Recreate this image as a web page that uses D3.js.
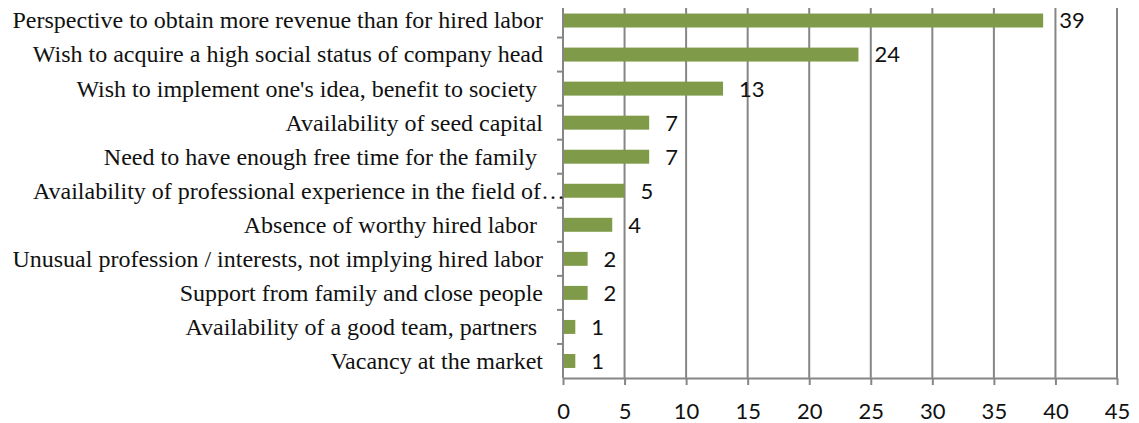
<!DOCTYPE html>
<html>
<head>
<meta charset="utf-8">
<script src="https://cdn.jsdelivr.net/npm/d3@7"></script>
<style>
  body { margin: 0; background: #fff; }
  text { white-space: pre; }
</style>
</head>
<body>
<svg id="chart" width="1139" height="423"></svg>
<script>
// categories, top to bottom (trailing spaces are in the original labels)
var categories = [
  "Perspective to obtain more revenue than for hired labor",
  "Wish to acquire a high social status of company head",
  "Wish to implement one's idea, benefit to society ",
  "Availability of seed capital",
  "Need to have enough free time for the family ",
  "Availability of professional experience in the field of\u2026",
  "Absence of worthy hired labor ",
  "Unusual profession / interests, not implying hired labor",
  "Support from family and close people",
  "Availability of a good team, partners ",
  "Vacancy at the market"
];
var values = [39, 24, 13, 7, 7, 5, 4, 2, 2, 1, 1];
var tickValues = [0, 5, 10, 15, 20, 25, 30, 35, 40, 45];

var svg = d3.select("#chart");

var x = d3.scaleLinear().domain([0, 45]).range([563, 1117]);
var y = d3.scaleBand().domain(categories).range([3.5, 378]).paddingInner(0.59).paddingOuter(0.295);

var grey = "#868686";

// vertical gridlines
svg.append("g")
  .selectAll("line")
  .data(tickValues.slice(1))
  .join("line")
  .attr("x1", d => x(d)).attr("x2", d => x(d))
  .attr("y1", 8).attr("y2", 378)
  .attr("stroke", grey).attr("stroke-width", 2);

// bars
svg.append("g")
  .selectAll("rect")
  .data(values)
  .join("rect")
  .attr("x", x(0))
  .attr("y", (d, i) => y(categories[i]))
  .attr("width", d => x(d) - x(0))
  .attr("height", y.bandwidth())
  .attr("fill", "#7F9A48");

// value labels
svg.append("g")
  .selectAll("text")
  .data(values)
  .join("text")
  .attr("x", d => x(d) + 16)
  .attr("y", (d, i) => y(categories[i]) + y.bandwidth() / 2)
  .attr("dy", "0.36em")
  .attr("font-family", "Lato, sans-serif")
  .attr("font-size", 22)
  .attr("fill", "#111")
  .text(d => d);

// category axis line
svg.append("line")
  .attr("x1", x(0)).attr("x2", x(0))
  .attr("y1", 8).attr("y2", 378)
  .attr("stroke", grey).attr("stroke-width", 2);

// small ticks between categories
svg.append("g")
  .selectAll("line")
  .data(categories.slice(1))
  .join("line")
  .attr("x1", x(0) - 6).attr("x2", x(0))
  .attr("y1", d => y(d) - y.step() * 0.295).attr("y2", d => y(d) - y.step() * 0.295)
  .attr("stroke", grey).attr("stroke-width", 2);

// category labels
svg.append("g")
  .selectAll("text")
  .data(categories)
  .join("text")
  .attr("x", (d, i) => i === 5 ? 565 : 543)
  .attr("y", d => y(d) + y.bandwidth() / 2)
  .attr("dy", "0.33em")
  .attr("text-anchor", "end")
  .attr("font-family", "'Liberation Serif', 'Times New Roman', serif")
  .attr("font-size", 24)
  .attr("fill", "#111")
  .text(d => d);

// value axis (bottom)
var xAxis = svg.append("g")
  .attr("transform", "translate(0,378)")
  .call(d3.axisBottom(x).tickValues(tickValues).tickSize(7).tickSizeOuter(0));
xAxis.select(".domain").attr("stroke", grey).attr("stroke-width", 2);
xAxis.selectAll(".tick line").attr("stroke", grey).attr("stroke-width", 2);
xAxis.selectAll(".tick text")
  .attr("y", 41).attr("dy", 0)
  .attr("font-family", "Lato, sans-serif")
  .attr("font-size", 22)
  .attr("fill", "#111");
</script>
</body>
</html>
